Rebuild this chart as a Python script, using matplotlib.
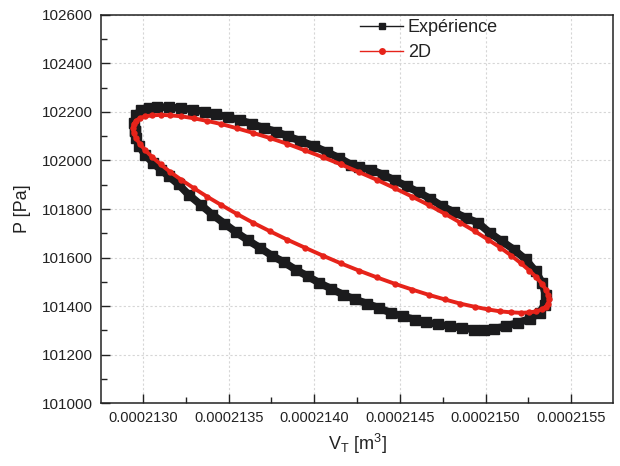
import matplotlib
matplotlib.use("Agg")
import matplotlib.pyplot as plt
from matplotlib.lines import Line2D
from matplotlib.ticker import FixedLocator, FuncFormatter

plt.rcParams['font.family'] = ['Liberation Sans', 'DejaVu Sans']
plt.rcParams['mathtext.fontset'] = 'custom'
plt.rcParams['mathtext.rm'] = 'Liberation Sans'

# ---- Data (volume in m^3, pressure in Pa) ----
exp_v = [2.12951e-4, 2.12949e-4, 2.12961e-4, 2.12988e-4, 2.13035e-4, 2.13081e-4, 2.13150e-4,
         2.13220e-4, 2.13289e-4, 2.13359e-4, 2.13428e-4, 2.13498e-4, 2.13567e-4, 2.13637e-4,
         2.13706e-4, 2.13776e-4, 2.13845e-4, 2.13914e-4, 2.13998e-4, 2.14076e-4, 2.14146e-4,
         2.14215e-4, 2.14262e-4, 2.14331e-4, 2.14401e-4, 2.14470e-4, 2.14539e-4, 2.14609e-4,
         2.14678e-4, 2.14748e-4, 2.14817e-4, 2.14887e-4, 2.14956e-4, 2.15026e-4, 2.15095e-4,
         2.15165e-4, 2.15234e-4, 2.15292e-4, 2.15331e-4, 2.15350e-4, 2.15345e-4, 2.15315e-4,
         2.15257e-4, 2.15188e-4, 2.15118e-4, 2.15049e-4, 2.14991e-4, 2.14933e-4, 2.14864e-4,
         2.14794e-4, 2.14725e-4, 2.14655e-4, 2.14586e-4, 2.14516e-4, 2.14447e-4, 2.14377e-4,
         2.14308e-4, 2.14239e-4, 2.14169e-4, 2.14100e-4, 2.14030e-4, 2.13961e-4, 2.13891e-4,
         2.13822e-4, 2.13752e-4, 2.13683e-4, 2.13613e-4, 2.13544e-4, 2.13475e-4, 2.13405e-4,
         2.13336e-4, 2.13266e-4, 2.13208e-4, 2.13150e-4, 2.13104e-4, 2.13058e-4, 2.13012e-4,
         2.12977e-4, 2.12958e-4, 2.12951e-4]
exp_p = [102120, 102155, 102189, 102210, 102218, 102221, 102219,
         102216, 102210, 102201, 102190, 102179, 102166, 102151,
         102134, 102119, 102100, 102082, 102059, 102034, 102010,
         101983, 101972, 101962, 101942, 101918, 101894, 101869,
         101842, 101811, 101787, 101763, 101743, 101701, 101667,
         101633, 101592, 101543, 101495, 101447, 101406, 101372,
         101347, 101331, 101317, 101306, 101300, 101303, 101310,
         101317, 101324, 101333, 101344, 101358, 101372, 101392,
         101410, 101427, 101447, 101471, 101495, 101523, 101550,
         101581, 101608, 101640, 101671, 101704, 101740, 101777,
         101818, 101859, 101901, 101935, 101962, 101990, 102024,
         102059, 102093, 102120]

sim_v = [2.14155e-4, 2.14261e-4, 2.14366e-4, 2.14469e-4, 2.14571e-4, 2.14669e-4, 2.14763e-4,
         2.14852e-4, 2.14936e-4, 2.15014e-4, 2.15086e-4, 2.15150e-4, 2.15207e-4, 2.15256e-4,
         2.15297e-4, 2.15329e-4, 2.15352e-4, 2.15365e-4, 2.15370e-4, 2.15365e-4, 2.15352e-4,
         2.15329e-4, 2.15297e-4, 2.15256e-4, 2.15207e-4, 2.15150e-4, 2.15086e-4, 2.15014e-4,
         2.14936e-4, 2.14852e-4, 2.14763e-4, 2.14669e-4, 2.14571e-4, 2.14469e-4, 2.14366e-4,
         2.14261e-4, 2.14155e-4, 2.14049e-4, 2.13944e-4, 2.13841e-4, 2.13739e-4, 2.13641e-4,
         2.13547e-4, 2.13458e-4, 2.13374e-4, 2.13296e-4, 2.13224e-4, 2.13160e-4, 2.13103e-4,
         2.13054e-4, 2.13013e-4, 2.12981e-4, 2.12958e-4, 2.12945e-4, 2.12940e-4, 2.12945e-4,
         2.12958e-4, 2.12981e-4, 2.13013e-4, 2.13054e-4, 2.13103e-4, 2.13160e-4, 2.13224e-4,
         2.13296e-4, 2.13374e-4, 2.13458e-4, 2.13547e-4, 2.13641e-4, 2.13739e-4, 2.13841e-4,
         2.13944e-4, 2.14049e-4, 2.14155e-4]
sim_p = [101984, 101952, 101920, 101886, 101851, 101816, 101780,
         101744, 101709, 101674, 101641, 101608, 101576, 101546,
         101518, 101492, 101468, 101446, 101427, 101410, 101397,
         101386, 101378, 101374, 101372, 101374, 101378, 101386,
         101397, 101410, 101427, 101446, 101468, 101492, 101518,
         101546, 101576, 101608, 101641, 101674, 101709, 101744,
         101780, 101816, 101851, 101886, 101920, 101952, 101984,
         102014, 102042, 102069, 102093, 102114, 102133, 102150,
         102163, 102174, 102182, 102186, 102188, 102186, 102182,
         102174, 102163, 102150, 102133, 102114, 102093, 102069,
         102042, 102014, 101984]

x_ticks = [2.130e-4, 2.135e-4, 2.140e-4, 2.145e-4, 2.150e-4, 2.155e-4]
x_minor = [2.1325e-4, 2.1375e-4, 2.1425e-4, 2.1475e-4, 2.1525e-4]
y_ticks = [101000, 101200, 101400, 101600, 101800, 102000, 102200, 102400, 102600]
y_minor = [101100, 101300, 101500, 101700, 101900, 102100, 102300, 102500]

labels = ['Expérience', '2D']
black = '#1b1b1d'
red = '#e6231a'

fig = plt.figure(figsize=(6.2, 4.66), dpi=100)
ax = fig.add_axes([0.163, 0.135, 0.826, 0.833])

ax.plot(exp_v, exp_p, '-', color=black, lw=5.5, marker='s', ms=6.5,
        solid_joinstyle='round', zorder=3)
ax.plot(sim_v, sim_p, '-', color=red, lw=2.8, marker='o', ms=4.6,
        markeredgewidth=0, zorder=4)

ax.set_xlim(2.12755e-4, 2.15745e-4)
ax.set_ylim(101000, 102600)

ax.xaxis.set_major_locator(FixedLocator(x_ticks))
ax.xaxis.set_minor_locator(FixedLocator(x_minor))
ax.yaxis.set_major_locator(FixedLocator(y_ticks))
ax.yaxis.set_minor_locator(FixedLocator(y_minor))
ax.xaxis.set_major_formatter(FuncFormatter(lambda v, p: f"{v:.7f}"))
ax.yaxis.set_major_formatter(FuncFormatter(lambda v, p: f"{v:.0f}"))

ax.tick_params(axis='both', which='major', direction='in', length=6.5, width=1.0,
               labelsize=10.5, color='#222222', labelcolor='#222222')
ax.tick_params(axis='both', which='minor', direction='in', length=4, width=1.0,
               color='#222222')
ax.tick_params(axis='x', which='major', pad=6)
ax.tick_params(axis='y', which='major', pad=6, labelsize=11)
ax.tick_params(top=False, right=False, which='both')

for s in ax.spines.values():
    s.set_linewidth(1.1)
    s.set_color('#222222')

ax.grid(True, which='major', color='#d6d6d6', lw=0.8, ls=(0, (2, 2)))
ax.set_axisbelow(True)

ax.set_xlabel(r'V$_\mathregular{T}$ [m$^\mathregular{3}$]', fontsize=13,
              color='#222222', labelpad=5)
ax.set_ylabel('P [Pa]', fontsize=13, color='#222222', labelpad=8)

handles = [Line2D([], [], color=black, lw=1.0, marker='s', ms=5),
           Line2D([], [], color=red, lw=1.0, marker='o', ms=5, markeredgewidth=0)]
leg = ax.legend(handles, labels, loc='upper left', bbox_to_anchor=(0.497, 1.0),
                frameon=False, fontsize=13, handlelength=2.4, handletextpad=0.25,
                labelspacing=0.42, borderpad=0.25, borderaxespad=0.0)
for t in leg.get_texts():
    t.set_color('#222222')

fig.savefig('out.png', dpi=100)
